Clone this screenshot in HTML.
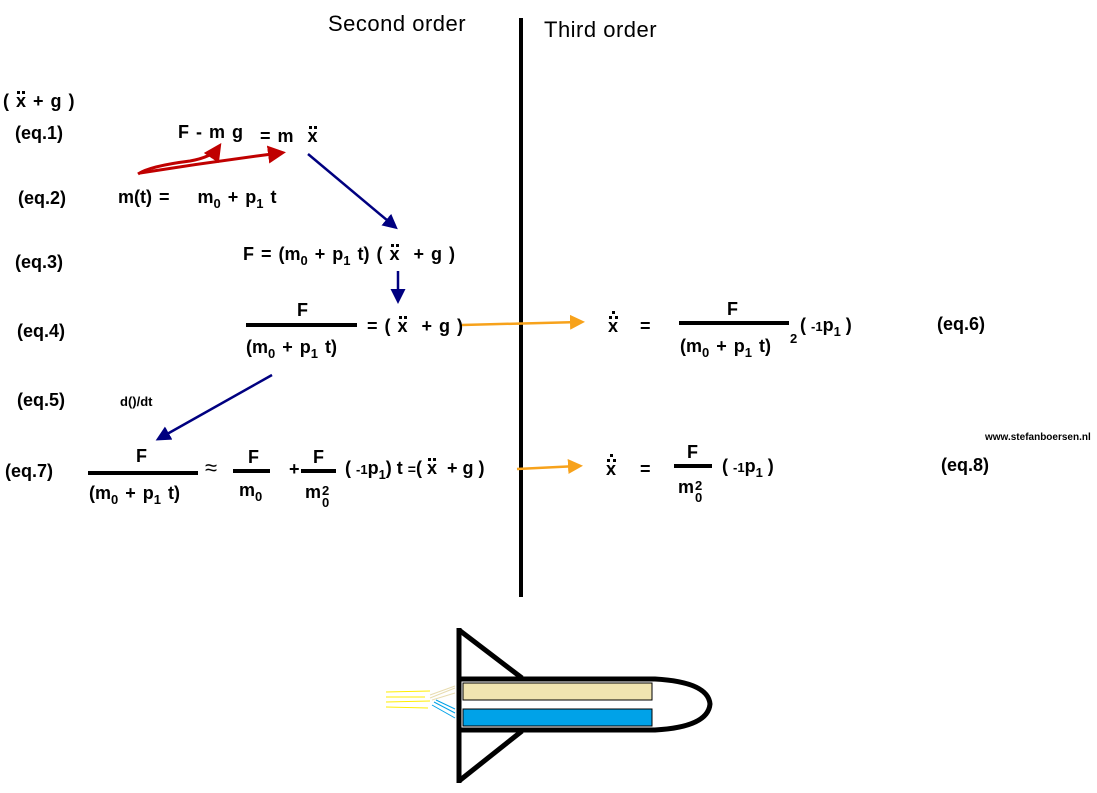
<!DOCTYPE html>
<html><head><meta charset="utf-8">
<style>
body{margin:0;width:1097px;height:793px;background:#fff;position:relative;overflow:hidden;font-family:"Liberation Sans",sans-serif;}
.t{position:absolute;font-weight:bold;font-size:18px;line-height:18px;white-space:nowrap;color:#000;word-spacing:2px;}
.s{font-size:13px;position:relative;top:5px;}
.bar{position:absolute;background:#000;height:4px;}
.h{position:absolute;font-size:22px;line-height:22px;white-space:nowrap;letter-spacing:0.5px;}
.xd{position:relative;display:inline-block;}
.xd:before{content:"";position:absolute;left:1px;top:-1px;width:3px;height:3px;background:#000;box-shadow:5px 0 0 #000;}
.x3{position:relative;display:inline-block;}
.x3:before{content:"";position:absolute;left:1px;top:-1px;width:3px;height:3px;background:#000;box-shadow:6px 0 0 #000,3px -5px 0 #000;}
.st{display:inline-block;vertical-align:-9px;font-size:13px;line-height:12px;text-align:center;margin-left:1px;}
</style></head><body>
<div class="h" style="left:328px;top:13px;">Second order</div>
<div class="h" style="left:544px;top:19px;">Third order</div>

<div class="t" style="left:3px;top:92px;">( <span class="xd">x</span> + g )</div>
<div class="t" style="left:15px;top:124px;">(eq.1)</div>
<div class="t" style="left:18px;top:189px;">(eq.2)</div>
<div class="t" style="left:15px;top:253px;">(eq.3)</div>
<div class="t" style="left:17px;top:322px;">(eq.4)</div>
<div class="t" style="left:17px;top:391px;">(eq.5)</div>
<div class="t" style="left:5px;top:462px;">(eq.7)</div>

<div class="t" style="left:178px;top:123px;">F - m g</div>
<div class="t" style="left:260px;top:127px;">= m &nbsp;<span class="xd">x</span></div>
<div class="t" style="left:118px;top:188px;">m(t) = &nbsp;&nbsp; m<span class="s">0</span> + p<span class="s">1</span> t</div>
<div class="t" style="left:243px;top:245px;">F = (m<span class="s">0</span> + p<span class="s">1</span> t) ( <span class="xd">x</span> &nbsp;+ g )</div>

<div class="t" style="left:297px;top:301px;">F</div>
<div class="bar" style="left:246px;top:323px;width:111px;"></div>
<div class="t" style="left:246px;top:338px;">(m<span class="s">0</span> + p<span class="s">1</span> t)</div>
<div class="t" style="left:367px;top:317px;">= ( <span class="xd">x</span> &nbsp;+ g )</div>

<div class="t" style="left:120px;top:393px;font-size:13px;">d()/dt</div>

<div class="t" style="left:136px;top:447px;">F</div>
<div class="bar" style="left:88px;top:471px;width:110px;"></div>
<div class="t" style="left:89px;top:484px;">(m<span class="s">0</span> + p<span class="s">1</span> t)</div>
<div class="t" style="left:205px;top:459px;font-size:22px;font-weight:normal;">≈</div>
<div class="t" style="left:248px;top:448px;">F</div>
<div class="bar" style="left:233px;top:469px;width:37px;"></div>
<div class="t" style="left:239px;top:481px;">m<span class="s">0</span></div>
<div class="t" style="left:289px;top:460px;">+</div>
<div class="t" style="left:313px;top:448px;">F</div>
<div class="bar" style="left:301px;top:469px;width:35px;"></div>
<div class="t" style="left:305px;top:483px;">m<span class="st">2<br>0</span></div>
<div class="t" style="left:345px;top:459px;word-spacing:0;">( <span style="font-size:13px">-1</span>p<span class="s">1</span>) t <span style="font-size:14px">=</span>( <span class="xd">x</span> &nbsp;+ g )</div>

<div class="t" style="left:608px;top:317px;"><span class="x3">x</span></div>
<div class="t" style="left:640px;top:317px;">=</div>
<div class="t" style="left:727px;top:300px;">F</div>
<div class="bar" style="left:679px;top:321px;width:110px;"></div>
<div class="t" style="left:680px;top:337px;">(m<span class="s">0</span> + p<span class="s">1</span> t)</div>
<div class="t" style="left:790px;top:330px;font-size:13px;">2</div>
<div class="t" style="left:800px;top:316px;word-spacing:0;">( <span style="font-size:13px">-1</span>p<span class="s">1</span> )</div>
<div class="t" style="left:937px;top:315px;">(eq.6)</div>

<div class="t" style="left:985px;top:429px;font-size:10px;word-spacing:0;">www.stefanboersen.nl</div>

<div class="t" style="left:606px;top:460px;"><span class="x3">x</span></div>
<div class="t" style="left:640px;top:460px;">=</div>
<div class="t" style="left:687px;top:443px;">F</div>
<div class="bar" style="left:674px;top:464px;width:38px;"></div>
<div class="t" style="left:678px;top:478px;">m<span class="st">2<br>0</span></div>
<div class="t" style="left:722px;top:457px;word-spacing:0;">( <span style="font-size:13px">-1</span>p<span class="s">1</span> )</div>
<div class="t" style="left:941px;top:456px;">(eq.8)</div>

<svg width="1097" height="793" style="position:absolute;left:0;top:0;" xmlns="http://www.w3.org/2000/svg">
<defs>
<marker id="r" markerWidth="6" markerHeight="6" refX="4" refY="3" orient="auto" markerUnits="strokeWidth"><path d="M0,0 L6,3 L0,6 Z" fill="#c00000"/></marker>
<marker id="b" markerWidth="6" markerHeight="6" refX="4" refY="3" orient="auto" markerUnits="strokeWidth"><path d="M0,0 L6,3 L0,6 Z" fill="#000080"/></marker>
<marker id="o" markerWidth="6" markerHeight="6" refX="4" refY="3" orient="auto" markerUnits="strokeWidth"><path d="M0,0 L6,3 L0,6 Z" fill="#f7a21b"/></marker>
</defs>
<line x1="521" y1="18" x2="521" y2="597" stroke="#000" stroke-width="4"/>
<path d="M138,174 Q150,166 190,161 Q212,157 218,148" stroke="#c00000" stroke-width="3" fill="none" marker-end="url(#r)"/>
<path d="M140,173 Q210,162 280,153" stroke="#c00000" stroke-width="3" fill="none" marker-end="url(#r)"/>
<line x1="308" y1="154" x2="394" y2="226" stroke="#000080" stroke-width="2.5" marker-end="url(#b)"/>
<line x1="398" y1="271" x2="398" y2="299" stroke="#000080" stroke-width="2.5" marker-end="url(#b)"/>
<line x1="462" y1="325" x2="580" y2="322" stroke="#f7a21b" stroke-width="2.5" marker-end="url(#o)"/>
<line x1="272" y1="375" x2="160" y2="438" stroke="#000080" stroke-width="2.5" marker-end="url(#b)"/>
<line x1="517" y1="469" x2="578" y2="466" stroke="#f7a21b" stroke-width="2.5" marker-end="url(#o)"/>

<g stroke="#000" stroke-width="5" fill="none">
<path d="M459,628 L459,783"/>
<path d="M459,630 L522,678"/>
<path d="M459,781 L522,731"/>
<path d="M459,679 L655,679 Q708,682 710,704 Q708,727 655,730 L459,730"/>
</g>
<rect x="463" y="683" width="189" height="17" fill="#f0e4b0" stroke="#000" stroke-width="1"/>
<rect x="463" y="709" width="189" height="17" fill="#00a2e8" stroke="#000" stroke-width="1"/>
<g stroke="#ffee00" stroke-width="1">
<line x1="386" y1="692" x2="430" y2="691"/><line x1="386" y1="697" x2="425" y2="697"/>
<line x1="386" y1="702" x2="430" y2="701"/><line x1="386" y1="707" x2="428" y2="708"/>
</g>
<g stroke="#e8dcb0" stroke-width="1">
<line x1="430" y1="698" x2="455" y2="688"/><line x1="432" y1="700" x2="455" y2="693"/><line x1="430" y1="695" x2="455" y2="686"/>
</g>
<g stroke="#00a2e8" stroke-width="1">
<line x1="432" y1="705" x2="455" y2="718"/><line x1="434" y1="702" x2="455" y2="713"/><line x1="436" y1="700" x2="455" y2="709"/>
</g>
</svg>
</body></html>
